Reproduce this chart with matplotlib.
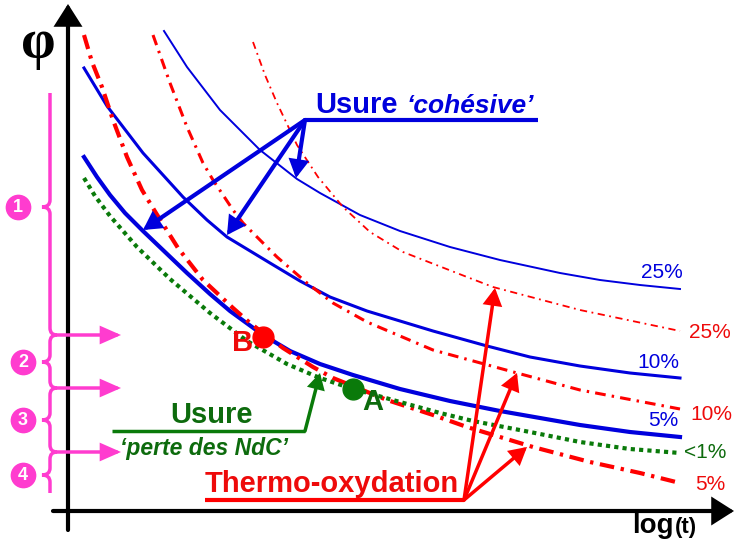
import numpy as np
import matplotlib
matplotlib.use("Agg")
import matplotlib.pyplot as plt
from matplotlib.path import Path
from matplotlib.patches import PathPatch

# --- curves (schematic, x = log(t), y = phi, read in picture units) ---
blue25_x = [164, 187, 220, 260, 297, 320, 360, 400, 450, 500, 560, 600, 640, 680]
blue25_y = [31, 67, 110, 150, 179, 193, 215, 231, 247, 260, 273, 280, 285, 289]

blue10_x = [84, 107, 143, 183, 207, 227, 270, 300, 330, 367, 433, 487, 530, 580, 630, 680]
blue10_y = [68, 106, 153, 197, 220, 237, 263, 281, 297, 311, 331, 346, 357, 366, 373, 378]

blue5_x = [84, 97, 110, 125, 143, 165, 187, 210, 230, 263, 290, 320, 353, 400, 450, 500, 580, 630, 680]
blue5_y = [157, 177, 195, 213, 231, 252, 273, 294, 311, 335, 351, 364, 375, 389, 401, 411, 425, 432, 437]

green1_x = [84, 95, 110, 137, 170, 210, 247, 287, 320, 350, 400, 440, 473, 530, 580, 630, 680]
green1_y = [178, 196, 216, 247, 279, 313, 341, 364, 378, 388, 402, 413, 421, 432, 442, 449, 453]

red5_x = [84, 92, 102, 113, 127, 142, 156, 178, 203, 233, 250, 283, 313, 333, 387, 433, 467, 533, 590, 640, 680]
red5_y = [35, 62, 87, 120, 157, 190, 213, 248, 280, 308, 323, 348, 367, 378, 400, 415, 427, 447, 462, 473, 483]

red10_x = [153, 170, 187, 203, 213, 233, 243, 277, 307, 333, 367, 433, 517, 580, 680]
red10_y = [35, 83, 127, 163, 180, 210, 223, 257, 283, 303, 322, 350, 373, 390, 409]

red25_x = [253, 265, 277, 297, 318, 343, 370, 403, 467, 493, 580, 680]
red25_y = [42, 75, 103, 145, 177, 207, 232, 252, 277, 287, 310, 331]

# end labels
blue_labels = ["25%", "10%", "5%"]
blue_label_x = [662, 658, 663]
blue_label_y = [273, 363, 421]
red_labels = ["25%", "10%", "5%"]
red_label_x = [710, 711, 710]
red_label_y = [332, 415, 485]

# points A and B
pt_B = (263, 337)
pt_A = (353, 389)

# regimes on the phi axis (braces)
regime_labels = ["1", "2", "3", "4"]
brace_top = [93, 335, 388, 452]
brace_mid = [207, 362, 420, 475]
brace_bot = [335, 388, 452, 493]
circle_x = [18, 23, 23, 23]
regime_arrow_y = [335, 388, 452]

BLUE = "#0000dd"
RED = "#ff0000"
RED_TXT = "#ee0a0a"
GREEN = "#0a7a0a"
GREEN_TXT = "#0d6b0d"
MAGENTA = "#ff3ccf"

plt.rcParams["font.family"] = ["Liberation Sans", "DejaVu Sans"]

fig = plt.figure(figsize=(7.4, 5.55), dpi=100)
ax = fig.add_axes([0, 0, 1, 1])
ax.set_xlim(0, 740)
ax.set_ylim(555, 0)
ax.axis("off")


def arrow(p0, p1, color, lw, ms=20, hl=0.45, hw=0.25):
    ax.annotate("", xy=p1, xytext=p0,
                arrowprops=dict(arrowstyle=f"-|>,head_length={hl},head_width={hw}",
                                color=color, lw=lw, mutation_scale=ms,
                                shrinkA=0, shrinkB=0, joinstyle="miter"))


# axes
arrow((68, 530), (68, 4), "black", 3, ms=22, hl=0.55, hw=0.35)
arrow((53, 511), (734, 511), "black", 3, ms=22, hl=0.55, hw=0.35)
ax.text(38, 58, "φ", fontsize=40, fontweight="bold", family="Liberation Serif",
        ha="center", va="baseline")
ax.text(632, 533, "log", fontsize=20, fontweight="bold", ha="left", va="baseline")
ax.text(675, 533, "(t)", fontsize=16, fontweight="bold", ha="left", va="baseline")

# curves
ax.plot(blue25_x, blue25_y, color=BLUE, lw=1.4)
ax.plot(blue10_x, blue10_y, color=BLUE, lw=2.2)
ax.plot(blue5_x, blue5_y, color=BLUE, lw=3.0)
ax.plot(red25_x, red25_y, color=RED, lw=1.3, dashes=(4, 2.5, 1, 2.5))
ax.plot(red10_x, red10_y, color=RED, lw=2.2, dashes=(3.5, 2, 0.8, 2))
ax.plot(red5_x, red5_y, color=RED, lw=3.0, dashes=(3.5, 1.6, 0.8, 1.6))
ax.plot(green1_x, green1_y, color=GREEN, lw=3.0, dashes=(1, 1))

for lab, x, y in zip(blue_labels, blue_label_x, blue_label_y):
    ax.text(x, y, lab, color=BLUE, fontsize=15, ha="center", va="center")
for lab, x, y in zip(red_labels, red_label_x, red_label_y):
    ax.text(x, y, lab, color=RED_TXT, fontsize=15, ha="center", va="center")
ax.text(705, 452, "<1%", color=GREEN_TXT, fontsize=15, ha="center", va="center")

# points
ax.plot(*pt_B, "o", color=RED, ms=15)
ax.text(pt_B[0] - 20, pt_B[1] + 6, "B", color=RED_TXT, fontsize=21,
        fontweight="bold", ha="center", va="center")
ax.plot(*pt_A, "o", color=GREEN, ms=15)
ax.text(pt_A[0] + 20, pt_A[1] + 13, "A", color=GREEN_TXT, fontsize=21,
        fontweight="bold", ha="center", va="center")

# Usure 'cohesive'
ax.text(315, 113, "Usure", color=BLUE, fontsize=21, fontweight="bold", va="baseline")
ax.text(407, 113, "‘cohésive’", color=BLUE, fontsize=19, fontweight="bold",
        style="italic", va="baseline")
ax.plot([305, 538], [120, 120], color=BLUE, lw=3, solid_capstyle="butt")
for tip in [(143, 230), (227, 235), (296, 178)]:
    arrow((305, 120), tip, BLUE, 3)

# Usure 'perte des NdC'
ax.text(211, 423, "Usure", color=GREEN_TXT, fontsize=21, fontweight="bold",
        ha="center", va="baseline")
ax.text(120, 455, "‘perte des NdC’", color=GREEN_TXT, fontsize=16.5,
        fontweight="bold", style="italic", va="baseline")
ax.plot([112, 305], [431, 431], color=GREEN, lw=2.5, solid_capstyle="butt")
arrow((305, 431), (320, 373), GREEN, 2.5, ms=18)

# Thermo-oxydation
ax.text(205, 492, "Thermo-oxydation", color=RED_TXT, fontsize=21,
        fontweight="bold", va="baseline")
ax.plot([205, 464], [500, 500], color=RED, lw=3, solid_capstyle="butt")
for tip in [(495, 288), (517, 373), (527, 447)]:
    arrow((464, 500), tip, RED, 2.5)

# regime braces on the left
bx, tipx, hook = 50, 42, 7
for i in range(4):
    y0, ym, y1 = brace_top[i], brace_mid[i], brace_bot[i]
    verts, codes = [], []
    if i > 0:
        verts += [(bx + hook, y0), (bx, y0), (bx, y0 + hook)]
        codes += [Path.MOVETO, Path.CURVE3, Path.CURVE3]
    else:
        verts += [(bx, y0)]
        codes += [Path.MOVETO]
    verts += [(bx, ym - hook), (bx, ym), (tipx, ym), (bx, ym), (bx, ym + hook)]
    codes += [Path.LINETO, Path.CURVE3, Path.CURVE3, Path.CURVE3, Path.CURVE3]
    if i < 3:
        verts += [(bx, y1 - hook), (bx, y1), (bx + hook, y1)]
        codes += [Path.LINETO, Path.CURVE3, Path.CURVE3]
    else:
        verts += [(bx, y1)]
        codes += [Path.LINETO]
    ax.add_patch(PathPatch(Path(verts, codes), fill=False, edgecolor=MAGENTA, lw=2.5))
    ax.plot(circle_x[i], ym, "o", color=MAGENTA, ms=17.5)
    ax.text(circle_x[i], ym + 0.5, regime_labels[i], color="white", fontsize=13,
            fontweight="bold", ha="center", va="center")

for y in regime_arrow_y:
    arrow((bx + hook, y), (121, y), MAGENTA, 2.5, ms=22, hl=0.5, hw=0.22)

fig.savefig("out.png", dpi=100)
